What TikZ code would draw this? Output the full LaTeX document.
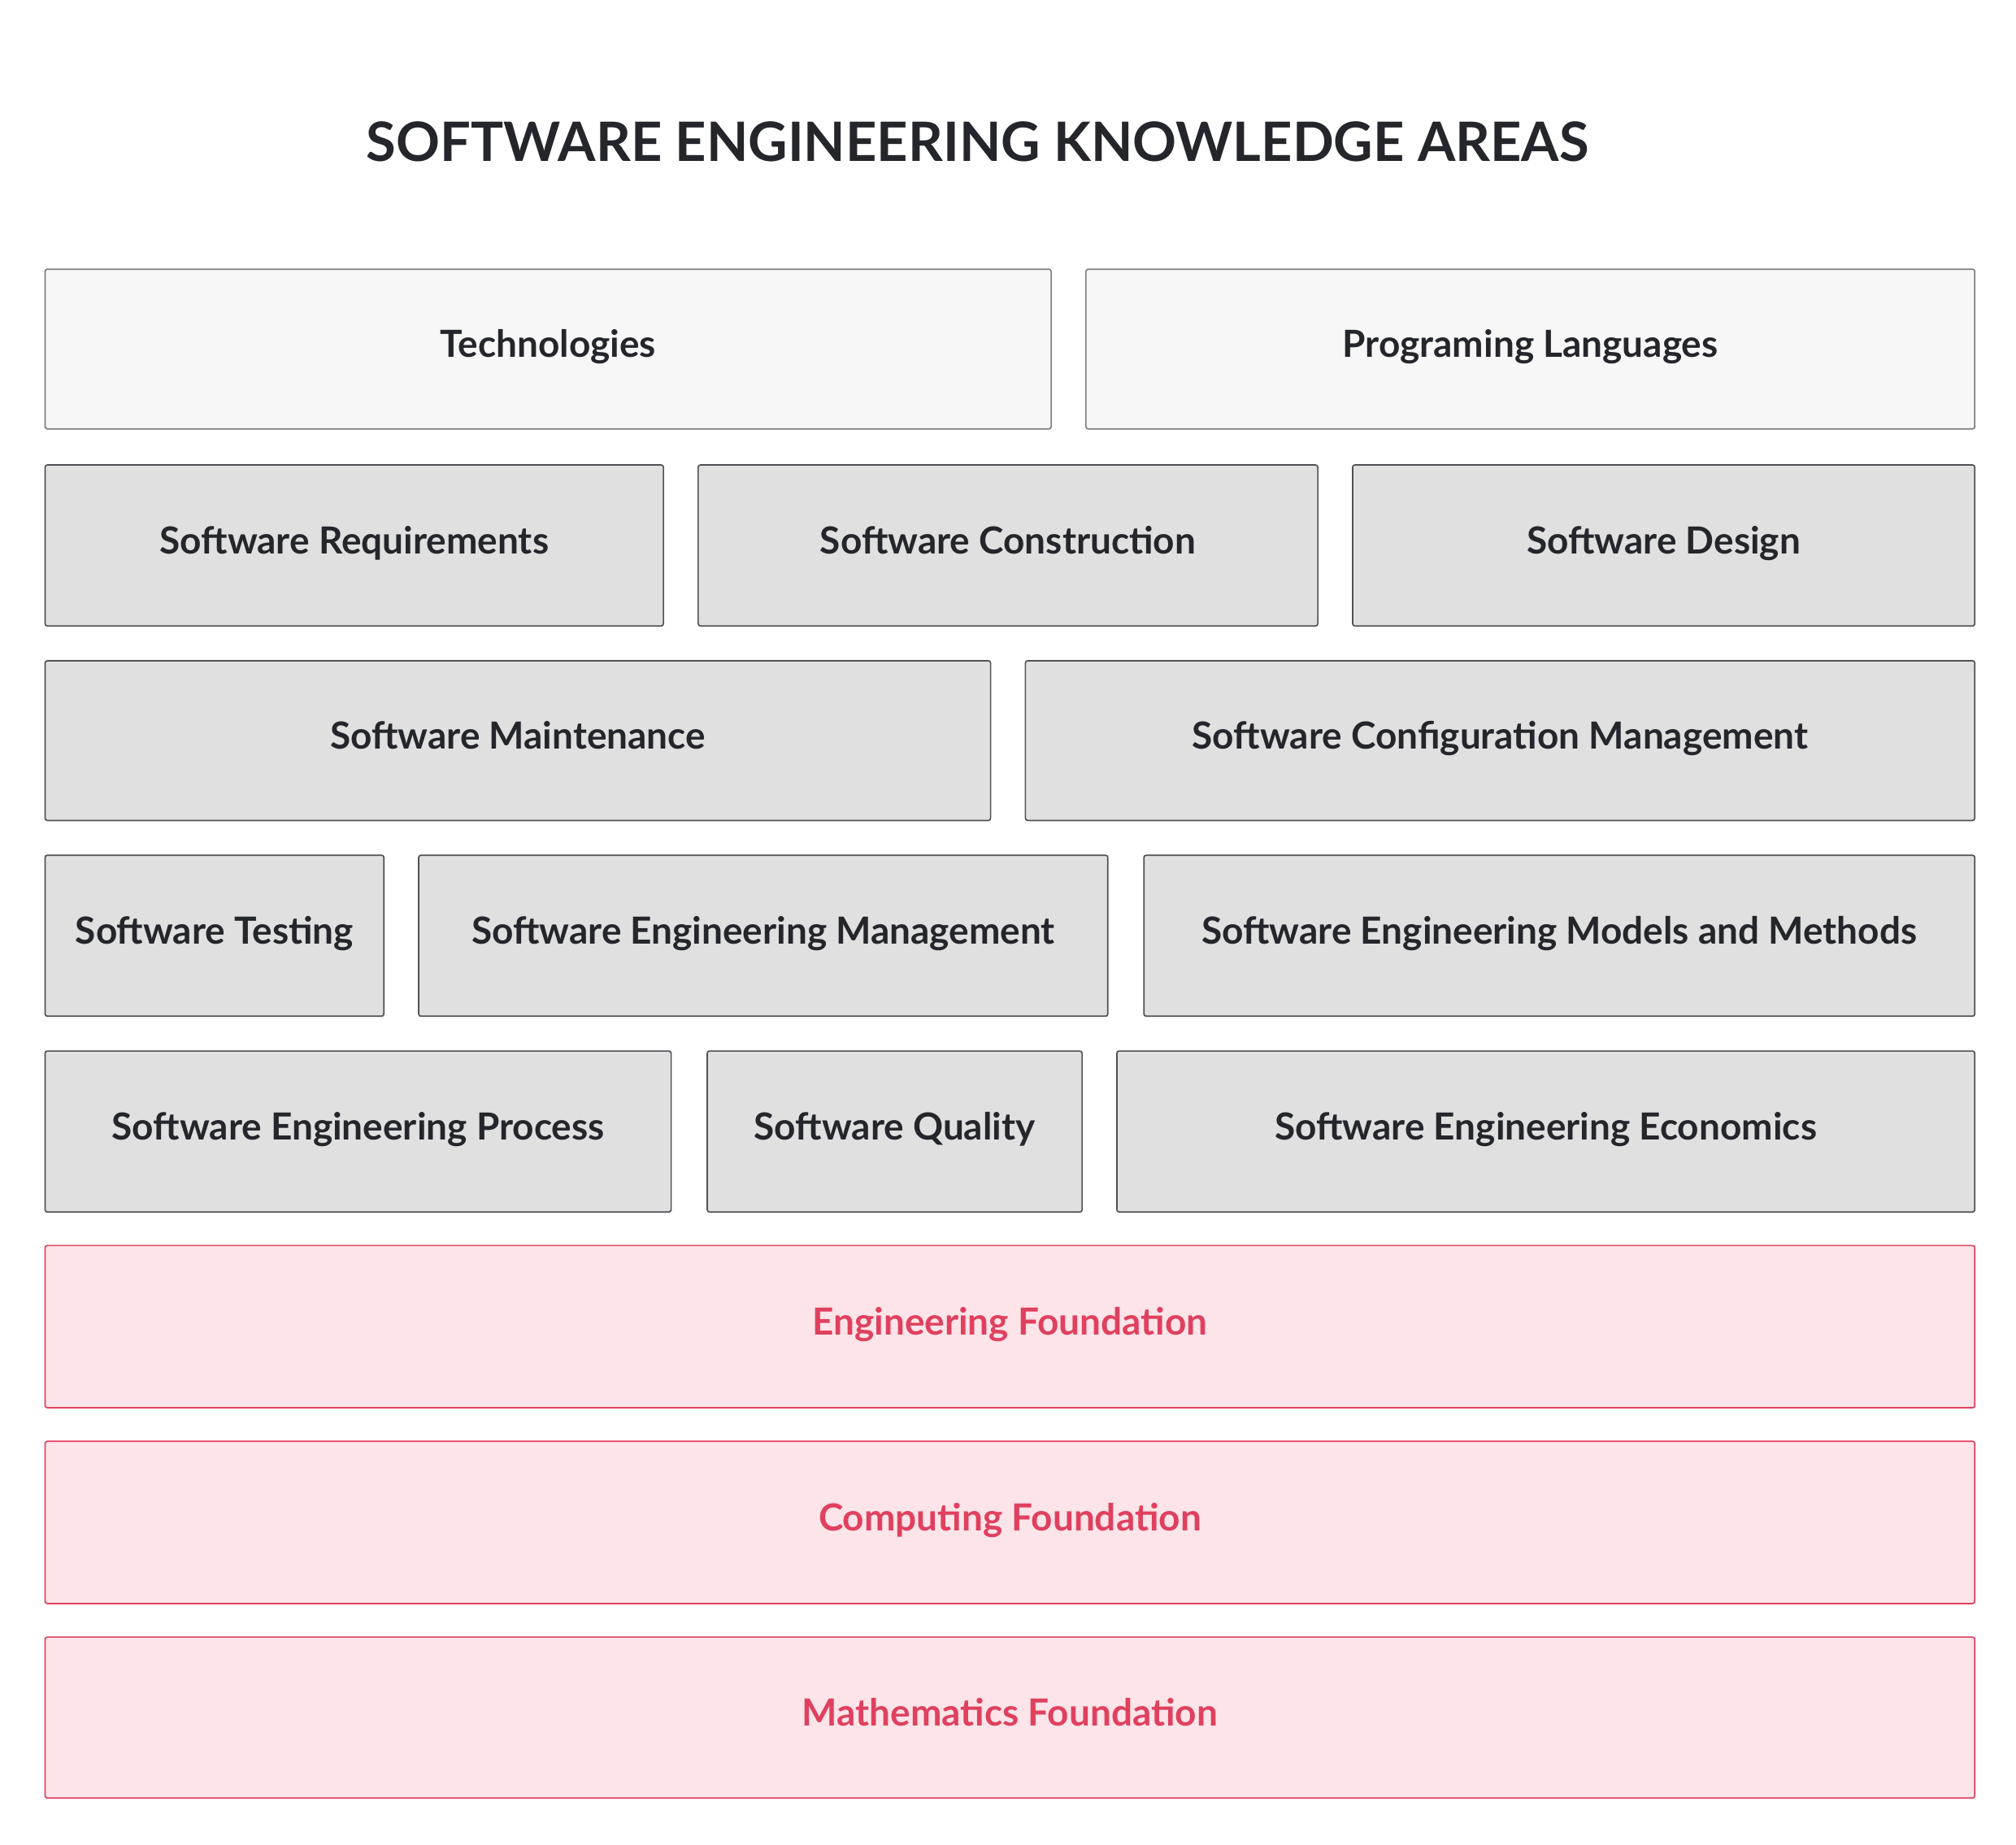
\documentclass[tikz,border=0pt]{standalone}
\usepackage{fontspec}
\setmainfont{Lato}
\definecolor{lightbox}{HTML}{F7F7F7}
\definecolor{greybox}{HTML}{E0E0E0}
\definecolor{pinkfill}{HTML}{FDE4E8}
\definecolor{pinkline}{HTML}{E0405F}
\definecolor{inkdark}{HTML}{24262C}
\tikzset{
  kabox/.style={draw=inkdark!80, line width=0.6pt, rounded corners=1pt, inner sep=0pt,
    text height=1.6ex, text depth=.15ex,
    text=inkdark, font=\fontsize{16.5}{18}\selectfont\bfseries},
  topbox/.style={kabox, fill=lightbox, draw=inkdark!60},
  midbox/.style={kabox, fill=greybox},
  basebox/.style={kabox, fill=pinkfill, draw=pinkline, text=pinkline}
}
% box from its corners (in picture pixels)
\newcommand\kabox[7][midbox]{%
  \node[#1, minimum width={(#5-#3)*0.02cm}, minimum height={(#6-#4)*0.02cm}]
    (#2) at ({(#3+#5)/2},{(#4+#6)/2}) {#7};}
\begin{document}
\begin{tikzpicture}[x=0.02cm, y=-0.02cm]
\useasboundingbox (0,0) rectangle (1565,1432);

% title
\node[text=inkdark, font=\fontsize{24}{27}\selectfont\bfseries] (title) at (759,110) {SOFTWARE ENGINEERING KNOWLEDGE AREAS};

% first row
\kabox[topbox]{tech}{35}{209}{816}{333}{Technologies}
\kabox[topbox]{lang}{843}{209}{1533}{333}{Programing Languages}

% knowledge areas
\kabox{req}{35}{361}{515}{486}{Software Requirements}
\kabox{constr}{542}{361}{1023}{486}{Software Construction}
\kabox{design}{1050}{361}{1533}{486}{Software Design}

\kabox{maint}{35}{513}{769}{637}{Software Maintenance}
\kabox{config}{796}{513}{1533}{637}{Software Configuration Management}

\kabox{test}{35}{664}{298}{789}{Software Testing}
\kabox{mgmt}{325}{664}{860}{789}{Software Engineering Management}
\kabox{models}{888}{664}{1533}{789}{Software Engineering Models and Methods}

\kabox{process}{35}{816}{521}{941}{Software Engineering Process}
\kabox{quality}{549}{816}{840}{941}{Software Quality}
\kabox{econ}{867}{816}{1533}{941}{Software Engineering Economics}

% foundations
\kabox[basebox]{engf}{35}{967}{1533}{1093}{Engineering Foundation}
\kabox[basebox]{compf}{35}{1119}{1533}{1245}{Computing Foundation}
\kabox[basebox]{mathf}{35}{1271}{1533}{1396}{Mathematics Foundation}
\end{tikzpicture}
\end{document}
